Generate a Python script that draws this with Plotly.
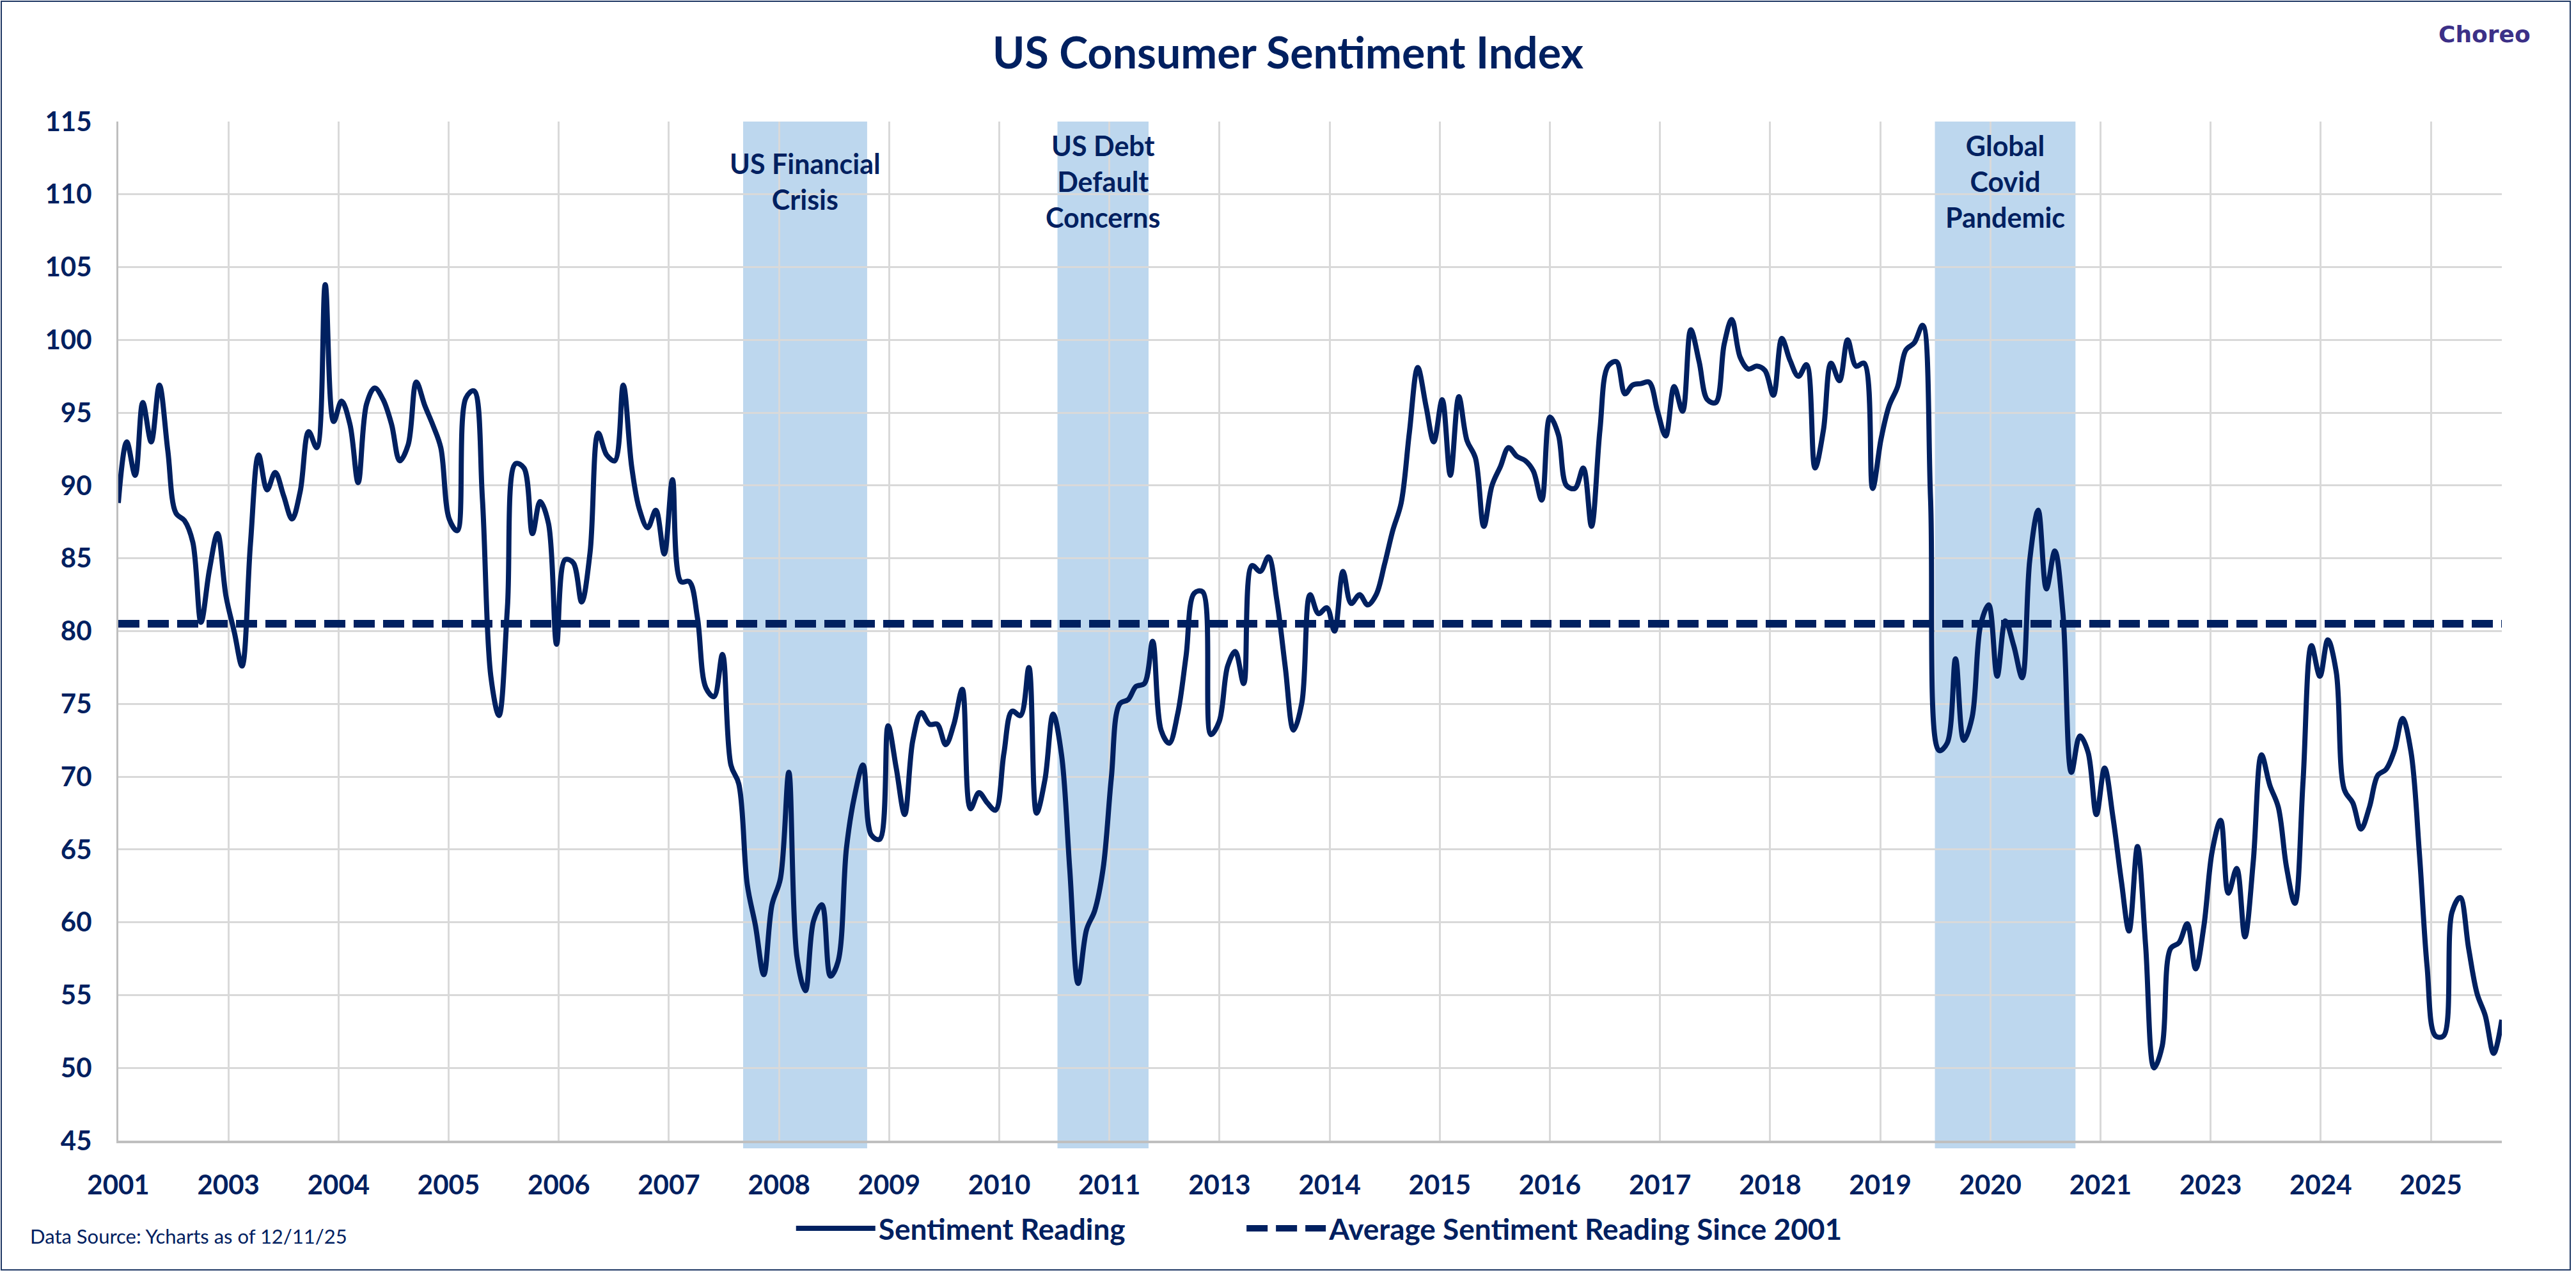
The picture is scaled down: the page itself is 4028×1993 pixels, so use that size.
import pandas as pd
import plotly.graph_objects as go

# Monthly readings, Dec 2001 - Dec 2025
months = pd.date_range("2001-12-01", "2025-12-01", freq="MS")
sentiment = [
    88.8,
    93.0, 90.7, 95.7, 93.0, 96.9, 92.4, 88.1, 87.6, 86.1, 80.6, 84.2, 86.7,   # 2002
    82.4, 79.9, 77.6, 86.0, 92.1, 89.7, 90.9, 89.3, 87.7, 89.6, 93.7, 92.6,   # 2003
    103.8, 94.4, 95.8, 94.2, 90.2, 95.6, 96.7, 95.9, 94.2, 91.7, 92.8, 97.1,  # 2004
    95.5, 94.1, 92.6, 87.7, 86.9, 96.0, 96.5, 89.1, 76.9, 74.2, 81.6, 91.5,   # 2005
    91.2, 86.7, 88.9, 87.4, 79.1, 84.9, 84.7, 82.0, 85.4, 93.6, 92.1, 91.7,   # 2006
    96.9, 91.3, 88.4, 87.1, 88.3, 85.3, 90.4, 83.4, 83.4, 80.9, 76.1, 75.5,   # 2007
    78.4, 70.8, 69.5, 62.6, 59.8, 56.4, 61.2, 63.0, 70.3, 57.6, 55.3, 60.1,   # 2008
    61.2, 56.3, 57.3, 65.1, 68.7, 70.8, 66.0, 65.7, 73.5, 70.6, 67.4, 72.5,   # 2009
    74.4, 73.6, 73.6, 72.2, 73.6, 76.0, 67.8, 68.9, 68.2, 67.7, 71.6, 74.5,   # 2010
    74.2, 77.5, 67.5, 69.8, 74.3, 71.5, 63.7, 55.8, 59.5, 60.8, 63.7, 69.9,   # 2011
    75.0, 75.3, 76.2, 76.4, 79.3, 73.2, 72.3, 74.3, 78.3, 82.6, 82.7, 72.9,   # 2012
    73.8, 77.6, 78.6, 76.4, 84.5, 84.1, 85.1, 82.1, 77.5, 73.2, 75.1, 82.5,   # 2013
    81.2, 81.6, 80.0, 84.1, 81.9, 82.5, 81.8, 82.5, 84.6, 86.9, 88.8, 93.6,   # 2014
    98.1, 95.4, 93.0, 95.9, 90.7, 96.1, 93.1, 91.9, 87.2, 90.0, 91.3, 92.6,   # 2015
    92.0, 91.7, 91.0, 89.0, 94.7, 93.5, 90.0, 89.8, 91.2, 87.2, 93.8, 98.2,   # 2016
    98.5, 96.3, 96.9, 97.0, 97.1, 95.1, 93.4, 96.8, 95.1, 100.7, 98.5, 95.9,  # 2017
    95.7, 99.7, 101.4, 98.8, 98.0, 98.2, 97.9, 96.2, 100.1, 98.6, 97.5, 98.3, # 2018
    91.2, 93.8, 98.4, 97.2, 100.0, 98.2, 98.4, 89.8, 93.2, 95.5, 96.8, 99.3,  # 2019
    99.8, 101.0, 89.1, 71.8, 72.3, 78.1, 72.5, 74.1, 80.4, 81.8, 76.9, 80.7,  # 2020
    79.0, 76.8, 84.9, 88.3, 82.9, 85.5, 81.2, 70.3, 72.8, 71.7, 67.4, 70.6,   # 2021
    67.2, 62.8, 59.4, 65.2, 58.4, 50.0, 51.5, 58.2, 58.6, 59.9, 56.8, 59.7,   # 2022
    64.9, 67.0, 62.0, 63.7, 59.0, 64.2, 71.5, 69.4, 67.9, 63.8, 61.3, 69.7,   # 2023
    79.0, 76.9, 79.4, 77.2, 69.1, 68.2, 66.4, 67.9, 70.1, 70.5, 71.8, 74.0,   # 2024
    71.7, 64.7, 57.0, 52.2, 52.2, 60.7, 61.7, 58.2, 55.1, 53.6, 51.0, 53.3,   # 2025
]
avg_reading = 80.5

tick_labels = ["2001", "2003", "2004", "2005", "2006", "2007", "2008", "2009",
               "2010", "2011", "2013", "2014", "2015", "2016", "2017", "2018",
               "2019", "2020", "2021", "2023", "2024", "2025"]

band_start = ["2008-04-01", "2011-06-01", "2020-04-01"]
band_end = ["2009-06-01", "2012-04-01", "2021-08-01"]
band_text = ["US Financial<br>Crisis", "US Debt<br>Default<br>Concerns", "Global<br>Covid<br>Pandemic"]

NAVY = "#002060"
BAND = "#BDD7EE"
GRID = "#D9D9D9"
FONT = "Lato"

# tick spacing used by the original axis (~405 days)
tick_vals = [months[0] + pd.Timedelta(days=405 * k) for k in range(len(tick_labels))]

fig = go.Figure()

fig.add_trace(go.Scatter(
    x=months, y=sentiment, mode="lines", name="Sentiment Reading",
    showlegend=True, legend="legend",
    line=dict(color=NAVY, width=8, shape="spline", smoothing=1.0),
))
fig.add_trace(go.Scatter(
    x=[months[0], months[-1]], y=[avg_reading, avg_reading], mode="lines",
    name="Average Sentiment Reading Since 2001", showlegend=True, legend="legend2",
    line=dict(color=NAVY, width=12, dash="33px,13px"),
))

# shaded event periods
half = pd.Timedelta(days=15)
for s, e, txt in zip(band_start, band_end, band_text):
    x0 = pd.Timestamp(s) - half
    x1 = pd.Timestamp(e) + half
    fig.add_shape(type="rect", xref="x", yref="paper", x0=x0, x1=x1, y0=-0.0075, y1=1,
                  fillcolor=BAND, line_width=0, layer="between")
    fig.add_annotation(x=x0 + (x1 - x0) / 2, y=110.9, xref="x", yref="y", text=txt,
                       showarrow=False, yanchor="middle",
                       font=dict(family=FONT, size=43, color=NAVY, weight="bold"))

# outer border
fig.add_shape(type="rect", xref="paper", yref="paper", x0=-0.0491, x1=1.0287,
              y0=-0.1268, y1=1.118, line=dict(color="#1F3864", width=2), layer="above")

fig.add_annotation(text="Data Source: Ycharts as of 12/11/25", xref="paper", yref="paper",
                   x=-0.0376, y=-0.0935, xanchor="left", yanchor="middle", showarrow=False,
                   font=dict(family=FONT, size=31, color=NAVY))
fig.add_annotation(text="Choreo", xref="paper", yref="paper", x=0.9928, y=1.086,
                   xanchor="center", yanchor="middle", showarrow=False,
                   font=dict(family="DejaVu Sans", size=36, color="#3C3087", weight="bold"))

legend_font = dict(family=FONT, size=46, color=NAVY, weight="bold")

fig.update_layout(
    width=4028, height=1993,
    margin=dict(l=185, r=116, t=190, b=210),
    paper_bgcolor="white", plot_bgcolor="white",
    showlegend=True,
    title=dict(text="US Consumer Sentiment Index", x=0.5, xanchor="center",
               y=0.9584, yanchor="middle",
               font=dict(family=FONT, size=68, color=NAVY, weight="bold")),
    legend=dict(orientation="h", x=0.283, y=-0.086, xanchor="left", yanchor="middle",
                font=legend_font, itemwidth=124, bgcolor="rgba(0,0,0,0)"),
    legend2=dict(orientation="h", x=0.472, y=-0.086, xanchor="left", yanchor="middle",
                 font=legend_font, itemwidth=124, bgcolor="rgba(0,0,0,0)"),
    xaxis=dict(type="date", range=[months[0], months[-1]], tickmode="array",
               tickvals=tick_vals, ticktext=tick_labels, showgrid=True,
               gridcolor=GRID, gridwidth=2.5, showline=True, linecolor="#BFBFBF",
               linewidth=4, ticks="", ticklabelstandoff=30, zeroline=False,
               tickfont=dict(family=FONT, size=42, color=NAVY, weight="bold")),
    yaxis=dict(range=[45, 115], dtick=5, showgrid=True, gridcolor=GRID, gridwidth=2.5,
               showline=True, linecolor="#BFBFBF", linewidth=3, ticks="",
               ticklabelstandoff=30, zeroline=False,
               tickfont=dict(family=FONT, size=42, color=NAVY, weight="bold")),
)

fig.write_html("out.html", config={"displayModeBar": False},
               post_script="document.body.style.margin='0';")
